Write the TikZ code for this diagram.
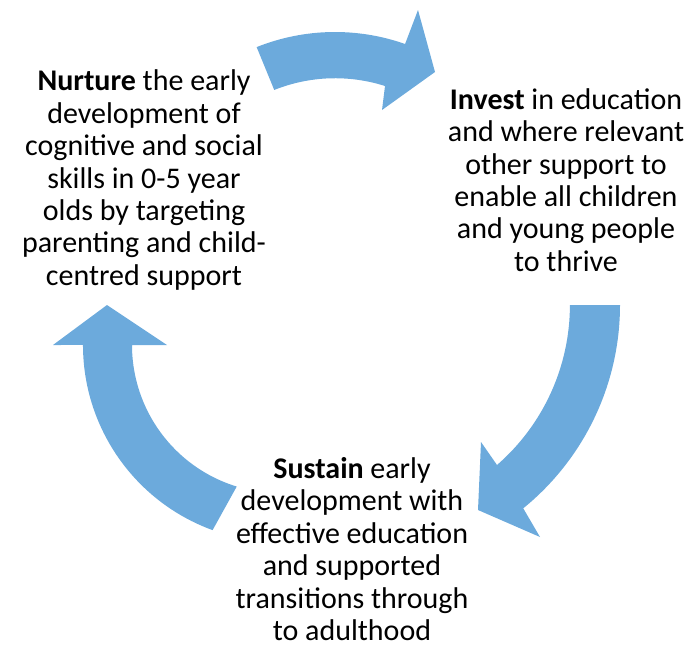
\documentclass[tikz,border=0pt]{standalone}
\usepackage{fontspec}
\setmainfont{Carlito}
\usetikzlibrary{calc}
\definecolor{arrowblue}{RGB}{108,170,220}
\begin{document}
\begin{tikzpicture}[x=1pt,y=-1pt,
  blocktext/.style={align=center,inner sep=0pt,font=\fontsize{30}{32.4}\selectfont}]
\useasboundingbox (0,0) rectangle (690,645);
% top arrow (Nurture -> Invest)
\coordinate (c1) at (335,243);
\fill[arrowblue] ($(c1)+(-111.8:211)$) arc[start angle=-111.8,end angle=-70.6,radius=211]
  -- (418,10) -- (435,72) -- (382,110) -- (385,86)
  arc[start angle=-72.3,end angle=-111.8,radius=164] -- cycle;
% right arrow (Invest -> Sustain)
\fill[arrowblue] (620,305) arc[start angle=0,end angle=50.9,radius=262]
  -- (540,537) -- (478,510) -- (481,442) -- (497,465)
  arc[start angle=49,end angle=0,radius=212] -- cycle;
% left arrow (Sustain -> Nurture)
\fill[arrowblue] (212.6,530.1) arc[start angle=110,end angle=180,radius=197]
  -- (53,345) -- (107,305) -- (167,345) -- (132,345)
  arc[start angle=180,end angle=107,radius=148] -- cycle;
\node[blocktext] (nurture) at (144,180) {\textbf{Nurture} the early\\development of\\cognitive and social\\skills in 0-5 year\\olds by targeting\\parenting and child-\\centred support};
\node[blocktext] (invest) at (566,180) {\textbf{Invest} in education\\and where relevant\\other support to\\enable all children\\and young people\\to thrive};
\node[blocktext] (sustain) at (352,549) {\textbf{Sustain} early\\development with\\effective education\\and supported\\transitions through\\to adulthood};
\end{tikzpicture}
\end{document}
